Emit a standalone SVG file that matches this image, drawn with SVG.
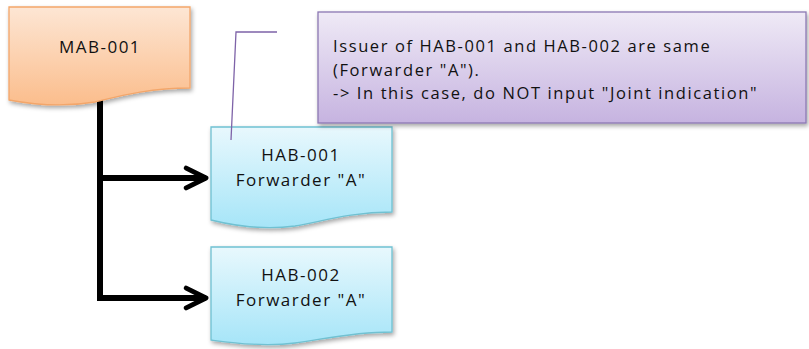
<svg xmlns="http://www.w3.org/2000/svg" width="809" height="349" viewBox="0 0 809 349">
<defs>
<linearGradient id="gO" x1="0" y1="0" x2="0" y2="1"><stop offset="0" stop-color="#fde6d4"/><stop offset="1" stop-color="#fbbd8c"/></linearGradient>
<linearGradient id="gB" x1="0" y1="0" x2="0" y2="1"><stop offset="0" stop-color="#e8f8fd"/><stop offset="1" stop-color="#a6e5f8"/></linearGradient>
<linearGradient id="gP" x1="0" y1="0" x2="0" y2="1"><stop offset="0" stop-color="#efeaf6"/><stop offset="1" stop-color="#c6b3e0"/></linearGradient>
<filter id="sh" x="-10%" y="-10%" width="125%" height="130%"><feDropShadow dx="1.5" dy="2.5" stdDeviation="2" flood-color="#000" flood-opacity="0.35"/></filter>
<marker id="arr" viewBox="0 0 12 12" refX="10.5" refY="6" markerWidth="4.4" markerHeight="4.4" markerUnits="strokeWidth" orient="auto"><path d="M1.5,1.5 L10.5,6 L1.5,10.5" fill="none" stroke="#000" stroke-width="2.2" stroke-linecap="round" stroke-linejoin="round"/></marker>
</defs>
<style>
text{font-family:"Open Sans","Liberation Sans",sans-serif;fill:#111;}
.n{font-size:17px;text-anchor:middle;letter-spacing:1.5px;}
.c{font-size:16.5px;letter-spacing:1.6px;}
.conn{fill:none;stroke:#000;stroke-width:6;}
</style>
<g id="connectors">
<path class="conn" d="M100,100 V298" stroke-linejoin="round"/>
<path class="conn" d="M100,178 H206" marker-end="url(#arr)"/>
<path class="conn" d="M97,298 H206" marker-end="url(#arr)"/>
</g>
<g id="MAB-001">
<path d="M9,7 H190 V88 C150,88 120,96 95,102 C60,108 30,104 9,100 Z" fill="url(#gO)" stroke="#f3a66a" stroke-width="1.3" filter="url(#sh)"/>
<text class="n" x="100" y="53">MAB-001</text>
</g>
<g id="HAB-001">
<path d="M211,127 H392 V212 C350,212 320,222 295,226 C265,230 235,226 211,220 Z" fill="url(#gB)" stroke="#6fc1d2" stroke-width="1.3" filter="url(#sh)"/>
<text class="n" x="301" y="161">HAB-001</text>
<text class="n" x="301" y="186">Forwarder "A"</text>
</g>
<g id="HAB-002">
<path d="M211,247 H392 V332 C350,332 320,340 295,343 C265,347 235,343 211,340 Z" fill="url(#gB)" stroke="#6fc1d2" stroke-width="1.3" filter="url(#sh)"/>
<text class="n" x="301" y="281">HAB-002</text>
<text class="n" x="301" y="306">Forwarder "A"</text>
</g>
<g id="note">
<rect x="318" y="12" width="488" height="111" fill="url(#gP)" stroke="#8c78b3" stroke-width="1.3" filter="url(#sh)"/>
<path d="M231,140 L236,32 H277" fill="none" stroke="#7e63a8" stroke-width="1.3"/>
<text class="c" x="333" y="52">Issuer of HAB-001 and HAB-002 are same</text>
<text class="c" x="333" y="76">(Forwarder "A").</text>
<text class="c" x="333" y="99">-&gt; In this case, do NOT input "Joint indication"</text>
</g>
</svg>
